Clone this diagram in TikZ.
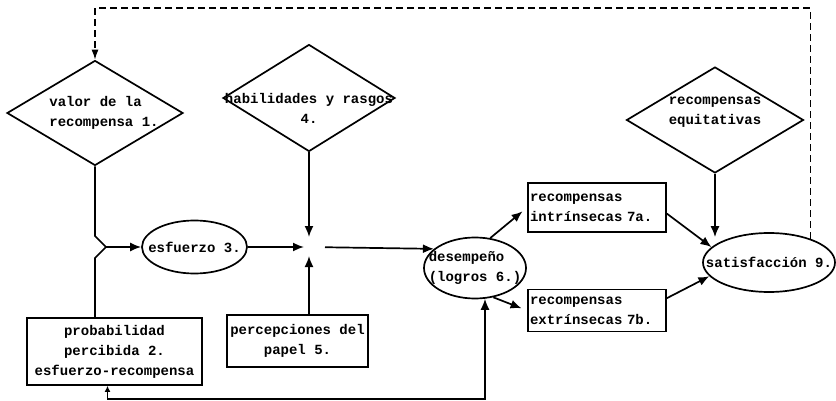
\documentclass[tikz,border=0pt]{standalone}
\usepackage{fontspec}
\setmonofont{Liberation Mono}
\usepackage{tikz}
\usetikzlibrary{calc}
\usetikzlibrary{shapes.geometric}
\usetikzlibrary{arrows.meta}
\tikzstyle{rombo} = [diamond, draw, line width=1.7pt, inner sep=0pt]
\tikzstyle{ovalo} = [ellipse, draw, line width=1.7pt, inner sep=0pt]
\tikzstyle{caja} = [rectangle, draw, line width=1.7pt, inner sep=2pt]
\tikzstyle{linea} = [line width=1.7pt]
\tikzstyle{flecha} = [line width=1.7pt, -{Latex[length=11pt,width=9pt]}]
\tikzstyle{retro} = [line width=1.3pt, dash pattern=on 7pt off 4pt, -{Latex[length=10pt,width=7pt]}]

\begin{document}
\begin{tikzpicture}[x=1pt,y=-1pt,
	every node/.style={font=\ttfamily\bfseries\fontsize{14}{20}\selectfont}]

	\useasboundingbox (0,0) rectangle (836,401);

	% Rombos
	\node[rombo, minimum width=176pt, minimum height=105pt,
		label={[align=left,xshift=9pt]center:valor de la\\recompensa 1.}] (valor) at (95,113) {};
	\node[rombo, minimum width=172pt, minimum height=107pt,
		label={[align=center,yshift=-10pt]center:habilidades y rasgos\\4.}] (habil) at (309,98) {};
	\node[rombo, minimum width=177pt, minimum height=106pt,
		label={[align=center,yshift=8pt]center:recompensas\\equitativas}] (equit) at (715,120) {};

	% Cajas
	\node[caja, minimum width=175pt, minimum height=67pt, align=center] (prob) at (114.5,351.5)
		{probabilidad\\percibida 2.\\esfuerzo-recompensa};
	\node[caja, minimum width=141pt, minimum height=52pt, align=center] (papel) at (297.5,341)
		{percepciones del\\papel 5.};
	\node[caja, text width=134pt, minimum height=49pt, align=left] (intr) at (597,207.5)
		{recompensas\\intrínsecas 7a.};
	\node[caja, text width=134pt, minimum height=42pt, align=left] (extr) at (597,310.5)
		{recompensas\\extrínsecas 7b.};

	% Elipses
	\node[ovalo, minimum width=105pt, minimum height=53pt,
		label={center:esfuerzo 3.}] (esf) at (194.5,247) {};
	\node[ovalo, minimum width=102pt, minimum height=61pt,
		label={[align=left]center:desempeño\\(logros 6.)}] (desem) at (475,268) {};
	\node[ovalo, minimum width=132pt, minimum height=59pt,
		label={center:satisfacción 9.}] (satis) at (769,262.5) {};

	\coordinate (J) at (309,247);
	\coordinate (K) at (106,247);
	\coordinate (arriba) at (0,8);

	% Entradas al esfuerzo
	\draw[linea] (valor.south) -- ($(valor.south |- K)+(0,-11)$) -- (K);
	\draw[linea] (valor.south |- prob.north) -- ($(valor.south |- K)+(0,11)$) -- (K);
	\draw[flecha] (K) -- (esf);

	% Convergencia hacia el desempeno
	\draw[flecha, shorten >=10pt] (habil) -- (J);
	\draw[flecha, shorten >=5pt] (esf) -- (J);
	\draw[flecha, shorten >=9pt] (J |- papel.north) -- (J);
	\draw[flecha, shorten <=16pt] (J) -- (desem.155);

	% Recompensas y satisfaccion
	\draw[flecha, shorten >=6pt] (desem.63) -- (intr.west);
	\draw[flecha, shorten >=6pt] (desem.-58) -- (extr.west);
	\draw[flecha] (intr.-5) -- (satis.165);
	\draw[flecha] (extr.10) -- (satis.193);
	\draw[flecha] (equit) -- ($(equit |- satis.north)+(0,5)$);

	% Retroalimentacion
	\draw[retro] (satis.30) -- (satis.30 |- arriba) -- (valor.north |- arriba) -- (valor.north);
	\draw[linea, {Latex[length=6pt,width=6pt]}-{Latex[length=11pt,width=9pt]}]
		($(prob.south)+(-7,0)$) -- ++(0,13) -| (desem.-72);

\end{tikzpicture}
\end{document}
